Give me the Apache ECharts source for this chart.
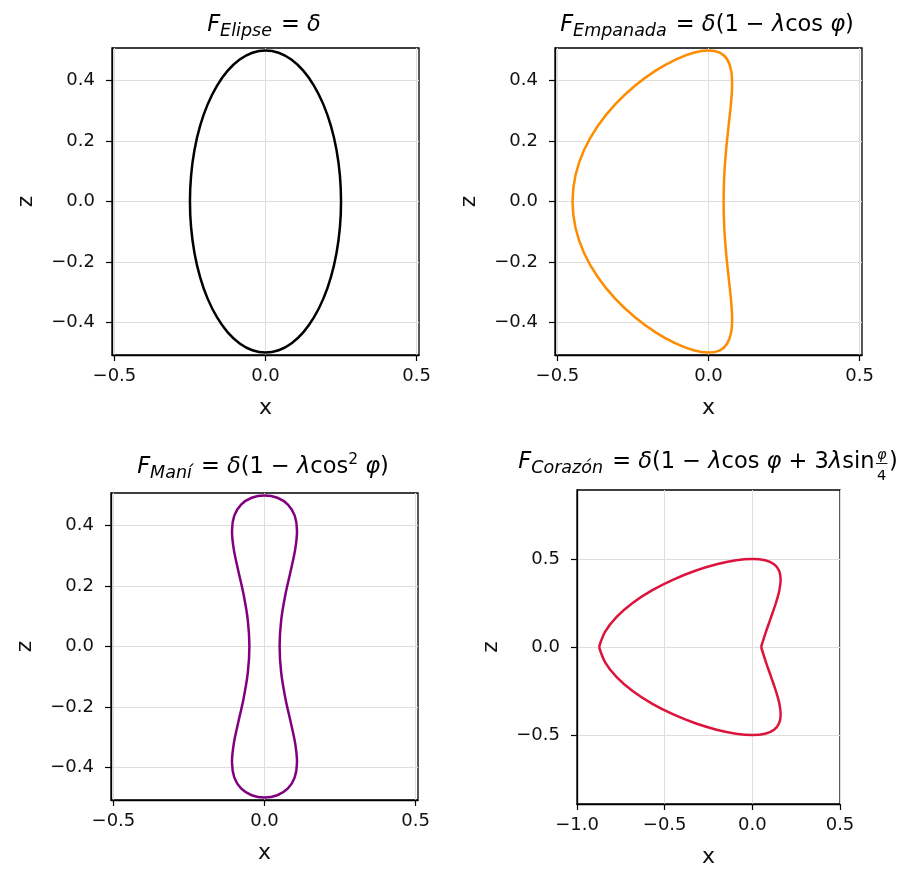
<!DOCTYPE html>
<html><head><meta charset="utf-8">
<script src="https://cdn.jsdelivr.net/npm/echarts@6/dist/echarts.min.js"></script>
<style>html,body{margin:0;padding:0;background:#fff}#c{width:912px;height:869px}</style>
</head><body><div id="c"></div>
<script>
const contornoZ = [0,0.0868,0.171,0.25,0.3214,0.383,0.433,0.4698,0.4924,0.5,0.4924,0.4698,0.433,0.383,0.3214,0.25,0.171,0.0868,0,
  -0.0868,-0.171,-0.25,-0.3214,-0.383,-0.433,-0.4698,-0.4924,-0.5,-0.4924,-0.4698,-0.433,-0.383,-0.3214,-0.25,-0.171,-0.0868,0];
const elipseX = [0.25,0.2462,0.2349,0.2165,0.1915,0.1607,0.125,0.0855,0.0434,0,-0.0434,-0.0855,-0.125,-0.1607,-0.1915,-0.2165,-0.2349,-0.2462,-0.25,
  -0.2462,-0.2349,-0.2165,-0.1915,-0.1607,-0.125,-0.0855,-0.0434,0,0.0434,0.0855,0.125,0.1607,0.1915,0.2165,0.2349,0.2462,0.25];
const empanadaX = [0.05,0.0522,0.0583,0.0665,0.0741,0.0781,0.075,0.0621,0.0374,0,-0.0494,-0.1089,-0.175,-0.2433,-0.3089,-0.3665,-0.4115,-0.4402,-0.45,
  -0.4402,-0.4115,-0.3665,-0.3089,-0.2433,-0.175,-0.1089,-0.0494,0,0.0374,0.0621,0.075,0.0781,0.0741,0.0665,0.0583,0.0522,0.05];
const maniX = [0.05,0.0552,0.069,0.0866,0.1016,0.1076,0.1,0.0775,0.0424,0,-0.0424,-0.0775,-0.1,-0.1076,-0.1016,-0.0866,-0.069,-0.0552,-0.05,
  -0.0552,-0.069,-0.0866,-0.1016,-0.1076,-0.1,-0.0775,-0.0424,0,0.0424,0.0775,0.1,0.1076,0.1016,0.0866,0.069,0.0552,0.05];
const corazonX = [0.05,0.078,0.1074,0.1343,0.154,0.1615,0.1527,0.1238,0.073,0,-0.0934,-0.2036,-0.325,-0.4505,-0.5725,-0.6828,-0.7739,-0.8393,-0.8743,
  -0.8393,-0.7739,-0.6828,-0.5725,-0.4505,-0.325,-0.2036,-0.0934,0,0.073,0.1238,0.1527,0.1615,0.154,0.1343,0.1074,0.078,0.05];

const ticksSmall = [-0.4,-0.2,0,0.2,0.4];
const ticksHalf = [-0.5,0,0.5];
const ticksWide = [-1,-0.5,0,0.5];

const colors = ['#000000','#ff8c00','#800080','#dc143c'];

// ---- layout ----
const FF = '"DejaVu Sans", sans-serif';
const grids = [
  {left:112, top:48, width:307, height:307},
  {left:555, top:48, width:307, height:307},
  {left:111, top:493, width:307, height:307},
  {left:577, top:490, width:263, height:314}
];
const xr = [[-0.508,0.508],[-0.508,0.508],[-0.508,0.508],[-1,0.5]];
const yr = [[-0.508,0.508],[-0.508,0.508],[-0.508,0.508],[-0.892,0.892]];
const xt = [ticksHalf,ticksHalf,ticksHalf,ticksWide];
const yt = [ticksSmall,ticksSmall,ticksSmall,ticksHalf];

const fmt = v => (v < 0 ? '\u2212' : '') + Math.abs(v).toFixed(1);
const txtCol = '#111';
const gridCol = '#dedede';

function axis(i, isX){
  const r = isX ? xr[i] : yr[i];
  const t = isX ? xt[i] : yt[i];
  return {
    type:'value', gridIndex:i, min:r[0], max:r[1],
    name: isX ? 'x' : 'z', nameLocation:'middle', nameGap: isX ? 42 : 75,
    nameRotate: isX ? 0 : 90,
    nameTextStyle:{fontFamily:FF, fontSize:22, color:txtCol},
    axisLine:{show:true, onZero:false, lineStyle:{color:'#000', width:1.3}},
    axisTick:{show:true, length:6, customValues:t, lineStyle:{color:'#000', width:1.2}},
    axisLabel:{customValues:t, formatter:fmt, fontFamily:FF, fontSize:18, color:txtCol, margin: isX ? 12 : 17},
    splitLine:{show:true, lineStyle:{color:gridCol, width:1}}
  };
}

// ---- series: contours drawn through the axes' own scales (custom series, smooth closed paths) ----
const series = [];
function addShape(i, xs, zs, closed){
  const data = xs.map((x,k)=>[x, zs[k]]);
  series.push({type:'custom', coordinateSystem:'cartesian2d', xAxisIndex:i, yAxisIndex:i,
    data:data, encode:{x:0, y:1}, silent:true, z:5, clip:false,
    renderItem:function(params, api){
      if (params.dataIndex !== 0) return null;
      let pts = data.map(d=>api.coord(d));
      if (closed) pts = pts.slice(0, -1);
      return {type: closed ? 'polygon' : 'polyline',
        shape:{points:pts, smooth:0.34},
        style:{fill:'none', stroke:colors[i], lineWidth:2.5, lineJoin:'round'}};
    }});
}
addShape(0, elipseX, contornoZ, true);
addShape(1, empanadaX, contornoZ, true);
addShape(2, maniX, contornoZ, true);
addShape(3, corazonX.slice(0,19), contornoZ.slice(0,19), false);
addShape(3, corazonX.slice(18), contornoZ.slice(18), false);

// ---- titles (math-like text built from pieces) ----
const ctx = document.createElement('canvas').getContext('2d');
function fnt(p){ return (p.it ? 'italic ' : '') + p.s + 'px "DejaVu Sans"'; }
function meas(t, p){ ctx.font = fnt(p); return ctx.measureText(t).width; }
function txt(x, yBase, t, p, align){
  return {type:'text', x:x, y:yBase - 0.346*p.s, silent:true, z:10,
    style:{text:t, font:fnt(p), fill:'#000', align:align||'left', verticalAlign:'middle',
           textAlign:align||'left', textVerticalAlign:'middle'}};
}
const MAIN = 22.5;
function buildTitle(pieces, cx, base){
  let x = 0; const items = [];
  pieces.forEach(p=>{
    if (p.frac){
      const s = 14.5;
      const w = Math.max(meas(p.frac[0],{it:1,s}), meas(p.frac[1],{s})) + 5;
      items.push({frac:p.frac, x, w, s}); x += w;
    } else {
      const q = Object.assign({s:MAIN}, p);
      const w = meas(q.t, q) + (q.gap||0);
      items.push(Object.assign(q, {x, w})); x += w;
    }
  });
  const x0 = cx - x/2;
  const els = [];
  items.forEach(it=>{
    if (it.frac){
      const mid = x0 + it.x + it.w/2;
      els.push(txt(mid, base - 10, it.frac[0], {it:1, s:it.s}, 'center'));
      els.push(txt(mid, base + 11.5, it.frac[1], {s:it.s}, 'center'));
      els.push({type:'line', silent:true, z:10, shape:{x1:x0+it.x+1.5, y1:base-6.5, x2:x0+it.x+it.w-1.5, y2:base-6.5},
        style:{stroke:'#000', lineWidth:0.9}});
    } else {
      els.push(txt(x0 + it.x, base + (it.dy||0), it.t, it));
    }
  });
  return els;
}
const SUB = {it:1, s:17.5, dy:5, gap:2};
const SUP = {s:15.5, dy:-9.5};
const titles = [
  buildTitle([{t:'F',it:1},Object.assign({t:'Elipse'},SUB),{t:' = '},{t:'\u03b4',it:1}], 264, 33),
  buildTitle([{t:'F',it:1},Object.assign({t:'Empanada'},SUB),{t:' = '},{t:'\u03b4',it:1},{t:'(1 \u2212 '},{t:'\u03bb',it:1},{t:'cos '},{t:'\u03c6',it:1},{t:')'}], 707, 33),
  buildTitle([{t:'F',it:1},Object.assign({t:'Man\u00ed'},SUB),{t:' = '},{t:'\u03b4',it:1},{t:'(1 \u2212 '},{t:'\u03bb',it:1},{t:'cos'},Object.assign({t:'2'},SUP),{t:' '},{t:'\u03c6',it:1},{t:')'}], 263, 475),
  buildTitle([{t:'F',it:1},Object.assign({t:'Coraz\u00f3n'},SUB),{t:' = '},{t:'\u03b4',it:1},{t:'(1 \u2212 '},{t:'\u03bb',it:1},{t:'cos '},{t:'\u03c6',it:1},{t:' + 3'},{t:'\u03bb',it:1},{t:'sin'},{frac:['\u03c6','4']},{t:')'}], 708, 470)
];

const chart = echarts.init(document.getElementById('c'), null, {renderer:'canvas'});
chart.setOption({
  animation:false,
  backgroundColor:'#fff',
  grid: grids.map(g=>Object.assign({show:true, borderColor:'#000', borderWidth:1.3, backgroundColor:'transparent', containLabel:false}, g)),
  xAxis: [0,1,2,3].map(i=>axis(i,true)),
  yAxis: [0,1,2,3].map(i=>axis(i,false)),
  series: series,
  graphic: [].concat.apply([], titles)
});
</script></body></html>
